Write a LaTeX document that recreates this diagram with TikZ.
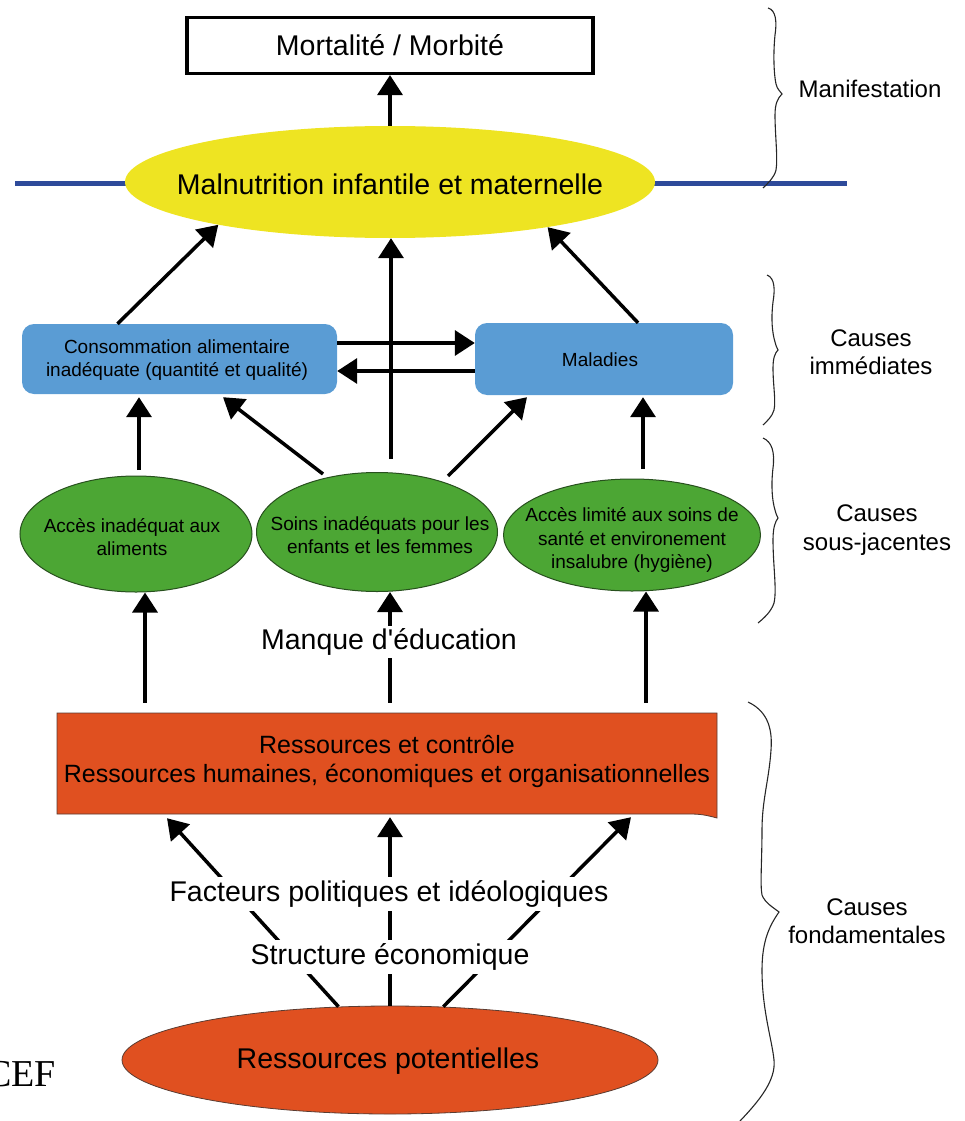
\documentclass[tikz,border=0pt]{standalone}
\usepackage{fontspec}
\setmainfont{Liberation Sans}
\newfontfamily\sansplain{Liberation Sans}
\newfontfamily\serifcef{Liberation Serif}
\usetikzlibrary{arrows.meta,shapes.geometric}
\definecolor{cyellow}{RGB}{238,228,34}
\definecolor{cblue}{RGB}{90,156,212}
\definecolor{cline}{RGB}{46,74,154}
\definecolor{cgreen}{RGB}{76,166,52}
\definecolor{cgreenb}{RGB}{40,80,30}
\definecolor{cred}{RGB}{224,80,32}
\definecolor{credb}{RGB}{90,60,50}
\begin{document}
\begin{tikzpicture}[x=1pt,y=-1pt,
  bigtxt/.style={font=\fontsize{28.5}{34}\selectfont, inner sep=2pt, align=center},
  midtxt/.style={font=\fontsize{25}{29}\selectfont, align=center},
  smalltxt/.style={font=\fontsize{19}{23.5}\selectfont, align=center, inner sep=0},
  labtxt/.style={font=\fontsize{24}{28.5}\selectfont, align=center, inner sep=0},
  arr/.style={line width=3.5pt, -{Triangle[width=25pt,length=20pt]}},
  gell/.style={ellipse, fill=cgreen, draw=cgreenb, line width=1pt, inner sep=0},
  bbox/.style={rounded corners=12pt, fill=cblue, inner sep=0},
  brace/.style={line width=1.1pt, black!85}]
\useasboundingbox (0,0) rectangle (965,1121);

% top box
\node[draw, line width=3.2pt, minimum width=406, minimum height=56, bigtxt] (mort) at (390,45.5) {Mortalité / Morbité};

% blue line and yellow ellipse
\draw[cline, line width=5pt] (15,183) coordinate (la) -- (847,183) coordinate (lb);
\node[ellipse, fill=cyellow, minimum width=530, minimum height=112, inner sep=0] (mal) at (390,182) {};
\node[bigtxt] (malt) at (390,184) {Malnutrition infantile et maternelle};

% immediate causes
\node[bbox, minimum width=315, minimum height=70] (cons) at (179.5,359) {};
\node[smalltxt] (const) at (177,360) {Consommation alimentaire\\inadéquate (quantité et qualité)};
\node[bbox, minimum width=258, minimum height=72] (malad) at (604,359) {};
\node[smalltxt] (maladt) at (600,360) {Maladies};

% underlying causes
\node[gell, minimum width=232, minimum height=116] (g1) at (136,534) {};
\node[smalltxt] (g1t) at (132,537) {Accès inadéquat aux\\aliments};
\node[gell, minimum width=241, minimum height=119] (g2) at (377,532) {};
\node[smalltxt] (g2t) at (380,535) {Soins inadéquats pour les\\enfants et les femmes};
\node[gell, minimum width=257, minimum height=112] (g3) at (632,535) {};
\node[smalltxt] (g3t) at (632,540) {Accès limité aux soins de\\santé et environement\\insalubre (hygiène)};

% resources box
\draw[fill=cred, draw=credb, line width=0.8pt] (57,713) -- (717,713) -- (717,818)
  .. controls (706,815) and (700,814) .. (690,814) -- (57,814) -- cycle;
\node[minimum width=660, minimum height=101, inner sep=0] (res) at (387,763.5) {};
\node[midtxt] (rest) at (387,761) {Ressources et contrôle\\Ressources humaines, économiques et organisationnelles};

% potential resources
\node[ellipse, fill=cred, draw=credb, line width=0.8pt, minimum width=536, minimum height=108, inner sep=0] (pot) at (390,1060) {};
\node[bigtxt] (pott) at (388,1061) {Ressources potentielles};

% arrows top part
\draw[arr] (mal.north) -- (mort.south);
\draw[arr] ([xshift=-62pt]cons.north) -- (mal.194);
\draw[arr] ([xshift=34pt]malad.north) -- (mal.-16);
\coordinate (cm) at (391,459);
\draw[arr] (cm) -- (cm |- mal.south);
\draw[arr] ([yshift=16pt]cons.east) coordinate (h1) -- (h1 -| malad.west);
\draw[arr] ([yshift=-12pt]malad.west) coordinate (h2) -- (h2 -| cons.east);

% green to blue
\coordinate (v1) at (139,470);
\draw[arr] (v1) -- ([yshift=-3pt]v1 |- cons.south);
\coordinate (d1) at (323,474);
\draw[arr] (d1) -- ([xshift=43.5pt,yshift=-3pt]cons.south);
\coordinate (d2) at (448,476);
\draw[arr] (d2) -- ([xshift=-77pt,yshift=-2pt]malad.south);
\coordinate (v3) at (643,469);
\draw[arr] (v3) -- ([yshift=-2pt]v3 |- malad.south);

% red box to green
\draw[arr, shorten <=10pt] ([xshift=-242pt]res.north) coordinate (r1) -- (r1 |- g1.south);
\draw[arr, shorten <=10pt] ([xshift=3pt]res.north) coordinate (r2) -- (r2 |- g2.south);
\draw[arr, shorten <=10pt] ([xshift=259pt]res.north) coordinate (r3) -- (r3 |- g3.south);
\node[bigtxt, fill=white, inner sep=3pt] (edu) at (389,642) {\sansplain Manque d'éducation};

% potential to resources
\draw[arr] (pot.134) -- ([xshift=-220pt,yshift=-4pt]res.south);
\draw[arr] (pot.north -| r2) -- ([yshift=-3pt]r2 |- res.south);
\draw[arr] (pot.45) -- ([xshift=244pt,yshift=-3pt]res.south);
\node[bigtxt, fill=white, inner sep=4pt] (fact) at (389,894) {Facteurs politiques et idéologiques};
\node[bigtxt, fill=white, inner sep=4pt] (struc) at (390,957) {Structure économique};

% CEF
\node[font=\serifcef\fontsize{38}{38}\selectfont, anchor=base east, inner sep=0] (cef) at (56,1086) {CEF};

% braces
\draw[brace] (768,8) .. controls (776,10) and (777,22) .. (775,35)
  .. controls (773,55) and (774,75) .. (776,84) .. controls (777,89) and (780,91) .. (782,94)
  .. controls (778,98) and (775,103) .. (775,115) .. controls (775,135) and (778,158) .. (776,170)
  .. controls (774,178) and (768,183) .. (763,188);
\draw[brace] (767,275) .. controls (775,278) and (775,290) .. (773,302)
  .. controls (771,318) and (772,332) .. (775,342) .. controls (776,346) and (777,348) .. (778,350)
  .. controls (775,353) and (773,358) .. (773,368) .. controls (773,385) and (776,400) .. (774,410)
  .. controls (772,417) and (767,421) .. (763,425);
\draw[brace] (763,438) .. controls (772,442) and (775,452) .. (773,468)
  .. controls (771,485) and (772,500) .. (775,510) .. controls (776,514) and (777,516) .. (778,518)
  .. controls (775,522) and (773,528) .. (773,540) .. controls (773,565) and (777,590) .. (774,603)
  .. controls (771,612) and (764,618) .. (758,623);
\draw[brace] (748,702) .. controls (765,710) and (773,725) .. (771,750)
  .. controls (769,780) and (762,800) .. (762,830) .. controls (762,860) and (760,885) .. (762,895)
  .. controls (765,903) and (774,908) .. (779,912)
  .. controls (770,925) and (762,940) .. (762,970) .. controls (762,1010) and (772,1040) .. (774,1060)
  .. controls (776,1080) and (760,1100) .. (740,1121);

% labels
\node[labtxt] (l1) at (870,89) {Manifestation};
\node[labtxt] (l2) at (871,352) {Causes\\immédiates};
\node[labtxt] (l3) at (877,530) {Causes\\sous-jacentes};
\node[labtxt] (l4) at (867,921) {Causes\\fondamentales};
\end{tikzpicture}
\end{document}
